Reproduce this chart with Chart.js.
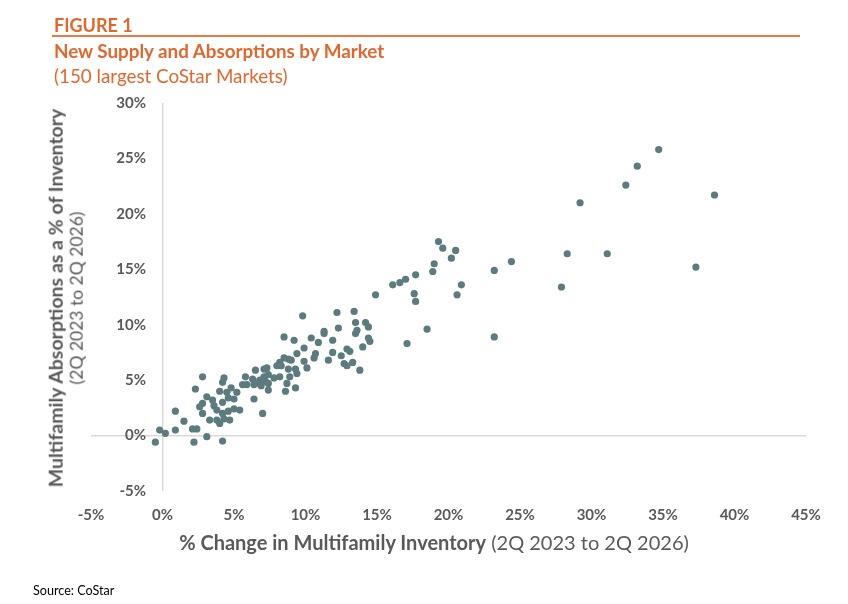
<!DOCTYPE html>
<html>
<head>
<meta charset="utf-8">
<script src="https://cdn.jsdelivr.net/npm/chart.js@4.4.1/dist/chart.umd.min.js"></script>
<style>
  html, body { margin: 0; padding: 0; background: #fff; }
  body { width: 848px; height: 604px; position: relative; overflow: hidden; font-family: Lato, "Open Sans", sans-serif; }
  #c { position: absolute; left: 0; top: 0; }
  .txt { position: absolute; white-space: nowrap; line-height: 1; }
  #fig { left: 54px; top: 15.5px; font-size: 18px; font-weight: bold; color: #e2672d; }
  #rule { position: absolute; left: 52px; top: 35px; width: 748px; height: 2px; background: #e87a45; }
  #title { left: 54px; top: 42px; font-size: 18.8px; font-weight: bold; color: #e2672d; }
  #sub { left: 54px; top: 66.5px; font-size: 18.8px; color: #e2672d; }
  #src { left: 33px; top: 585px; font-size: 12.6px; color: #000; }
  #xt { left: 434px; top: 532px; transform: translateX(-50%); font-size: 20px; color: #595959; }
  #yt { left: 66px; top: 298px; transform: translate(-50%, -50%) rotate(-90deg); text-align: center; color: #595959; }
  #yt div { line-height: 21.3px; }
  #yt .l1 { font-size: 19.5px; font-weight: bold; }
  #yt .l2 { font-size: 17.5px; }
  b { font-weight: bold; }
</style>
</head>
<body>
<canvas id="c" width="848" height="604"></canvas>
<div class="txt" id="fig">FIGURE 1</div>
<div id="rule"></div>
<div class="txt" id="title">New Supply and Absorptions by Market</div>
<div class="txt" id="sub">(150 largest CoStar Markets)</div>
<div class="txt" id="xt"><b>% Change in Multifamily Inventory</b> (2Q 2023 to 2Q 2026)</div>
<div class="txt" id="yt"><div class="l1">Multifamily Absorptions as a % of Inventory</div><div class="l2">(2Q 2023 to 2Q 2026)</div></div>
<div class="txt" id="src">Source: CoStar</div>
<script>
// % change in inventory (x) and absorptions as % of inventory (y), one entry per market
const supplyPct = [
  2.8, 4.3, 4.2, 2.3, 5.8, 6.3, 4.0, 4.5, 4.8, 5.2, 5.6, 5.9, 6.4, 3.1, 3.5, 4.2, 4.6, 5.0, 6.4, 2.8,
  2.6, 3.6, 3.8, 2.8, 4.2, 4.6, 5.0, 5.4, 0.9, 3.3, 3.8, 4.0, 4.3, 4.7, 1.5, -0.2, 0.2, 0.9, 2.1, 2.4,
  -0.5, 2.2, 3.1, 4.2, 8.5, 9.2, 9.4, 9.0, 8.8, 8.5, 8.2, 8.0, 8.3, 8.8, 8.9, 8.7, 8.6, 9.3, 9.3, 9.4,
  7.3, 7.1, 6.5, 7.4, 7.1, 7.8, 8.2, 6.8, 7.2, 6.5, 7.4, 6.9, 7.4, 7.0, 9.8, 12.2, 13.4, 13.5, 14.2, 14.4,
  13.6, 13.5, 12.3, 11.3, 11.3, 10.4, 10.9, 11.9, 14.4, 14.5, 14.0, 9.9, 10.7, 10.6, 11.9, 12.9, 13.1, 12.5, 9.9, 11.6,
  12.7, 12.9, 13.3, 13.8, 10.1, 14.9, 16.1, 16.6, 17.0, 17.7, 18.9, 19.0, 19.3, 19.6, 20.5, 20.2, 17.6, 17.7, 20.9, 20.6,
  18.5, 17.1, 23.2, 24.4, 23.2, 34.7, 33.2, 32.4, 29.2, 38.6, 28.3, 31.1, 27.9, 37.3
];
const absorptionPct = [
  5.3, 5.2, 4.8, 4.2, 5.3, 5.1, 4.0, 3.9, 4.3, 3.9, 4.6, 4.6, 4.6, 3.5, 3.2, 3.0, 3.4, 3.3, 3.3, 2.9,
  2.6, 2.7, 2.3, 2.0, 2.0, 2.2, 2.4, 2.3, 2.2, 1.4, 1.4, 1.1, 1.5, 1.4, 1.3, 0.5, 0.2, 0.5, 0.6, 0.6,
  -0.6, -0.6, -0.1, -0.5, 8.9, 8.6, 7.4, 6.8, 6.9, 7.0, 6.6, 6.3, 6.3, 6.0, 5.3, 4.7, 4.0, 4.3, 6.0, 5.6,
  6.1, 6.0, 5.9, 5.5, 5.3, 5.2, 5.3, 5.0, 4.9, 4.7, 4.7, 4.5, 4.1, 2.0, 10.8, 11.1, 11.2, 10.2, 10.2, 9.8,
  9.5, 9.2, 9.7, 9.4, 9.2, 8.8, 8.4, 8.6, 8.8, 8.5, 8.0, 7.9, 7.4, 7.0, 7.5, 7.8, 7.6, 7.2, 6.7, 6.8,
  6.5, 6.3, 6.6, 5.9, 6.1, 12.7, 13.6, 13.8, 14.1, 14.5, 14.8, 15.5, 17.5, 16.9, 16.7, 16.0, 12.8, 12.1, 13.6, 12.7,
  9.6, 8.3, 14.9, 15.7, 8.9, 25.8, 24.3, 22.6, 21.0, 21.7, 16.4, 16.4, 13.4, 15.2
];
const xTickLabels = ['-5%', '0%', '5%', '10%', '15%', '20%', '25%', '30%', '35%', '40%', '45%'];
const yTickLabels = ['-5%', '0%', '5%', '10%', '15%', '20%', '25%', '30%'];

const points = supplyPct.map((x, i) => ({ x: x, y: absorptionPct[i] }));

const tickFont = { family: 'Lato', size: 15, weight: 'bold' };
const zeroLine = ctx => ctx.tick.value === 0 ? '#d9d9d9' : 'rgba(0,0,0,0)';

// y labels sit just left of the x=0 line (Excel "axis crosses at 0"), right edge ~146px
const canvas = document.getElementById('c');
const m = canvas.getContext('2d');
m.font = 'bold 15px Lato';
const widest = Math.max(...yTickLabels.map(t => m.measureText(t).width));
const chartLeft = 91;
const yLabelPad = 146 - chartLeft - widest;

new Chart(canvas, {
  type: 'scatter',
  data: {
    datasets: [{
      data: points,
      backgroundColor: '#5b7b7e',
      borderWidth: 0,
      pointRadius: 3.6,
      pointHoverRadius: 3.6
    }]
  },
  options: {
    responsive: false,
    animation: false,
    layout: { padding: { left: chartLeft, right: 42, top: 103, bottom: 73 } },
    plugins: { legend: { display: false }, tooltip: { enabled: false } },
    scales: {
      x: {
        type: 'linear', min: -5, max: 45,
        ticks: { stepSize: 5, font: tickFont, color: '#595959', padding: 15,
                 callback: (v, i) => xTickLabels[i] },
        grid: { drawTicks: false, color: zeroLine, lineWidth: 1.5 },
        border: { display: false },
        afterFit: s => { s.height = 40; }
      },
      y: {
        type: 'linear', min: -5, max: 30, position: 'left',
        ticks: { stepSize: 5, font: tickFont, color: '#595959', mirror: true, crossAlign: 'far',
                 padding: yLabelPad, callback: (v, i) => yTickLabels[i] },
        grid: { drawTicks: false, color: zeroLine, lineWidth: 1.5 },
        border: { display: false },
        afterFit: s => { s.width = 0; }
      }
    }
  }
});
</script>
</body>
</html>
